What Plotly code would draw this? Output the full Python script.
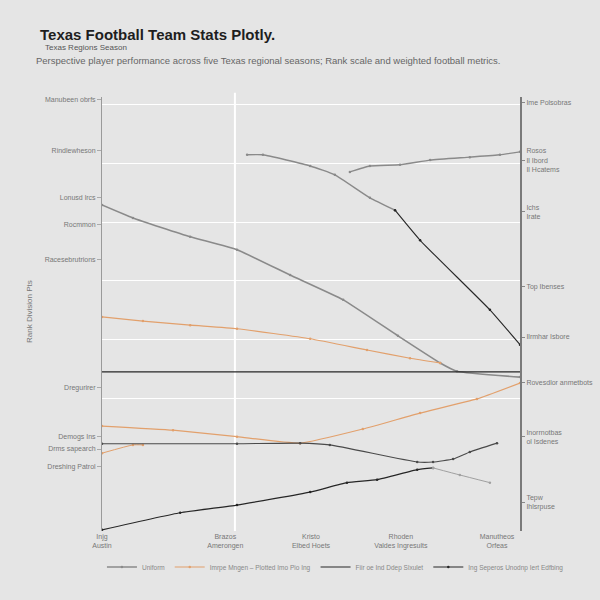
import plotly.graph_objects as go

# ---- data ----
x_tick_vals = [0, 29.5, 50, 71.5, 94.5]
x_tick_text = ["Injg<br>Austin", "Brazos<br>Amerongen", "Kristo<br>Elbed Hoets",
               "Rhoden<br>Valdes Ingresults", "Manutheos<br>Orfeas"]

grid_vals = [20, 30, 40, 50, 60, 70]

left_tick_vals = [70.7, 62.2, 54.1, 49.5, 43.6, 22.0, 13.6, 11.5, 8.6]
left_tick_text = ["Manubeen obrfs", "Rindlewheson", "Lonusd lrcs", "Rocmmon",
                  "Racesebrutrions", "Dregurirer", "Demogs Ins", "Drms sapearch",
                  "Dreshing Patrol"]

right_tick_vals = [70.3, 60.5, 51.7, 39.0, 30.5, 22.7, 13.6, 2.5]
right_tick_text = ["Ime Polsobras", "Rosos<br>Il Ibord<br>Il Hcatems", "Ichs<br>Irate",
                   "Top Ibenses", "Ilrmhar Isbore", "Rovesdlor anmetbots",
                   "Inorrnotbas<br>ol Isdenes", "Tepw<br>Ihlsrpuse"]

decline_x = [0, 7.4, 21.1, 32.3, 45.0, 57.7, 70.8, 80.9, 84.9, 100]
decline_y = [52.9, 50.7, 47.5, 45.3, 41.0, 36.8, 30.7, 26.1, 24.7, 23.7]

upper_a_x = [34.7, 38.5, 49.8, 55.7, 64.1, 70.1]
upper_a_y = [61.4, 61.4, 59.5, 58.0, 54.1, 52.0]

drop_x = [70.1, 76.1, 92.8, 100]
drop_y = [52.0, 46.9, 35.1, 29.2]

upper_b_x = [59.3, 64.1, 71.3, 78.5, 88.0, 95.2, 100]
upper_b_y = [58.5, 59.5, 59.7, 60.5, 61.0, 61.4, 61.9]

orange_up_x = [0, 9.8, 21.1, 32.3, 49.8, 63.4, 73.7, 80.9]
orange_up_y = [33.9, 33.2, 32.5, 31.9, 30.2, 28.3, 26.9, 26.1]

flat_x = [0, 100]
flat_y = [24.6, 24.6]

orange_low_x = [0, 17.0, 32.3, 47.4, 62.4, 76.1, 89.7, 100]
orange_low_y = [15.4, 14.7, 13.6, 12.5, 14.9, 17.6, 20.0, 22.7]

orange_short_x = [0, 7.4, 9.8]
orange_short_y = [10.8, 12.2, 12.2]

mid_x = [0, 32.3, 47.4, 54.5, 75.4, 79.2, 84.0, 88.0, 94.5]
mid_y = [12.4, 12.4, 12.5, 12.2, 9.3, 9.3, 9.8, 11.0, 12.5]

rise_x = [0, 18.7, 32.3, 49.8, 58.6, 65.8, 75.4, 79.2]
rise_y = [-2.2, 0.7, 2.0, 4.2, 5.8, 6.3, 8.0, 8.3]

tail_x = [79.2, 85.6, 92.8]
tail_y = [8.3, 7.1, 5.8]

highlight_x = 31.8

# ---- styles ----
BG = "#e5e5e5"
GRAY = "#8a8a8a"
ORANGE = "#e2a06c"
DARK = "#262626"
FONT = "Liberation Sans, Arial, sans-serif"

fig = go.Figure()

def add(x, y, color, width, name, show=False, msize=2.5, mode="lines+markers"):
    fig.add_trace(go.Scatter(
        x=x, y=y, mode=mode, name=name, showlegend=show,
        line=dict(color=color, width=width, shape="spline", smoothing=0.4),
        marker=dict(size=msize, color=color),
    ))

add(decline_x, decline_y, GRAY, 1.6, "Uniform", True)
add(upper_a_x, upper_a_y, GRAY, 1.4, "a")
add(drop_x, drop_y, DARK, 1.1, "b")
add(upper_b_x, upper_b_y, GRAY, 1.4, "c")
add(orange_up_x, orange_up_y, ORANGE, 1.2, "Imrpe Mngen – Plotted Imo Pio Ing", True)
add(flat_x, flat_y, DARK, 1.2, "Fiir oe Ind Ddep Slxulet", True, mode="lines")
add(orange_low_x, orange_low_y, ORANGE, 1.2, "d")
add(orange_short_x, orange_short_y, ORANGE, 1.0, "e")
add(mid_x, mid_y, "#4a4a4a", 1.1, "f")
add(rise_x, rise_y, DARK, 1.2, "Ing Seperos Unodnp Iert Edfbing", True)
add(tail_x, tail_y, "#a0a0a0", 1.0, "g")

# anchors for the custom left/right label axes
fig.add_trace(go.Scatter(x=[None], y=[None], yaxis="y2", showlegend=False))
fig.add_trace(go.Scatter(x=[None], y=[None], yaxis="y3", showlegend=False))

YR = [-2.4, 71.2]

fig.add_shape(type="line", xref="x", yref="paper", x0=highlight_x, x1=highlight_x,
              y0=0, y1=1.01, line=dict(color="#ffffff", width=2), layer="below")

fig.update_layout(
    width=600, height=600,
    paper_bgcolor=BG, plot_bgcolor=BG,
    margin=dict(l=102, r=80, t=97, b=69, autoexpand=False),
    font=dict(family=FONT, size=7, color="#777"),
    xaxis=dict(range=[0, 100], tickvals=x_tick_vals, ticktext=x_tick_text,
               showgrid=False, zeroline=False, showline=False, automargin=False,
               tickfont=dict(size=7, color="#777"), ticks=""),
    yaxis=dict(range=YR, tickvals=grid_vals, showgrid=True, gridcolor="#ffffff",
               gridwidth=1.2, zeroline=False, showticklabels=False, automargin=False,
               showline=True, linecolor="#9a9a9a", linewidth=1),
    yaxis2=dict(range=YR, overlaying="y", side="left", tickvals=left_tick_vals,
                ticktext=left_tick_text, showgrid=False, zeroline=False, automargin=False,
                tickfont=dict(size=7, color="#777"), ticks="outside", ticklen=4,
                tickcolor="#aaa"),
    yaxis3=dict(range=YR, overlaying="y", side="right", tickvals=right_tick_vals,
                ticktext=right_tick_text, showgrid=False, zeroline=False, automargin=False,
                showline=True, linecolor="#7a7a7a", linewidth=2,
                tickfont=dict(size=7, color="#777"), ticks="outside", ticklen=3,
                tickcolor="#888"),
    legend=dict(orientation="h", x=-0.0001, xanchor="left", y=-0.083, yanchor="middle",
                itemwidth=30, tracegroupgap=0,
                font=dict(size=6.5, color="#888"), bgcolor="rgba(0,0,0,0)"),
    showlegend=True,
)

# text positions in paper units (plot spans x 102..520 px, y 97..531 px)
fig.add_annotation(xref="paper", yref="paper", x=-0.152, y=1.143, xanchor="left",
                   yanchor="middle", showarrow=False,
                   text="<b>Texas Football Team Stats Plotly.</b>",
                   font=dict(size=15, color="#1e1e1e", family=FONT))
fig.add_annotation(xref="paper", yref="paper", x=-0.14, y=1.115, xanchor="left",
                   yanchor="middle", showarrow=False,
                   text="Texas Regions Season",
                   font=dict(size=8, color="#555", family=FONT))
fig.add_annotation(xref="paper", yref="paper", x=-0.162, y=1.085, xanchor="left",
                   yanchor="middle", showarrow=False,
                   text="Perspective player performance across five Texas regional seasons; Rank scale and weighted football metrics.",
                   font=dict(size=9.5, color="#666", family=FONT))
fig.add_annotation(xref="paper", yref="paper", x=-0.172, y=0.505, xanchor="center",
                   yanchor="middle", showarrow=False, textangle=-90,
                   text="Rank Division Pts",
                   font=dict(size=8, color="#777", family=FONT))

fig.write_html("out.html", config={"displayModeBar": False},
               post_script="document.body.style.margin='0';document.body.style.overflow='hidden';")
